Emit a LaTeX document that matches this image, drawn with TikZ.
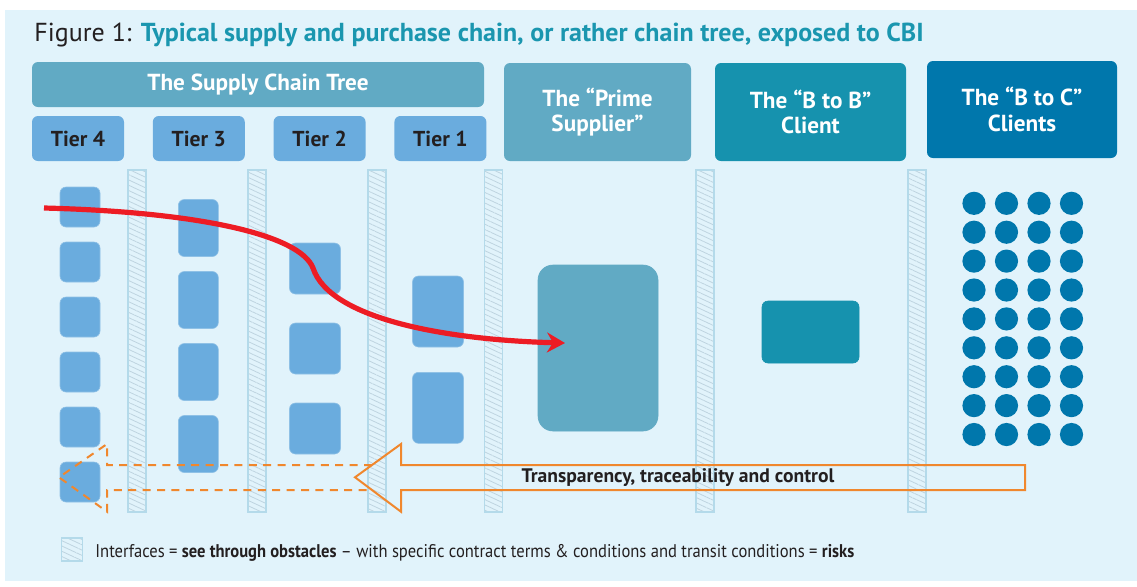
\documentclass[tikz,border=0pt]{standalone}
\usepackage{fontspec}
\setmainfont{PT Sans}
\newfontfamily\condfont[FakeStretch=0.9]{PT Sans}
\usetikzlibrary{arrows.meta,positioning,patterns.meta}
\definecolor{fondo}{RGB}{225,243,251}
\definecolor{arbol}{RGB}{97,170,196}
\definecolor{tierblue}{RGB}{106,172,222}
\definecolor{btob}{RGB}{22,146,174}
\definecolor{btoc}{RGB}{0,119,172}
\definecolor{ifaceline}{RGB}{180,218,234}
\definecolor{ifacehatch}{RGB}{190,212,224}
\definecolor{naranja}{RGB}{240,135,45}
\definecolor{rojo}{RGB}{237,28,36}
\definecolor{texto}{RGB}{35,31,32}
\definecolor{titulo}{RGB}{26,150,175}

\begin{document}
\begin{tikzpicture}[
  x=0.5pt,y=-0.5pt,
  node distance=14pt,
  head/.style={rounded corners=3pt,text=white,align=center,inner sep=0pt,
               font=\bfseries\fontsize{11.6}{12.8}\selectfont},
  tier/.style={fill=tierblue,rounded corners=3pt,minimum width=46pt,minimum height=22.5pt,
               inner sep=0pt,text=texto,font=\bfseries\fontsize{10.8}{12}\selectfont},
  firm/.style={fill=tierblue,draw=tierblue!75!white,line width=0.3pt,rounded corners=3pt,inner sep=0pt},
  iface/.style={draw=ifaceline,line width=0.6pt,inner sep=0pt,
                pattern={Lines[angle=-25,distance=2.4pt,line width=0.4pt]},pattern color=ifacehatch},
  dot/.style={circle,fill=btoc,minimum size=11.6pt,inner sep=0pt},
  flecha/.style={draw=naranja,line width=1pt,line join=miter},
  ar/.style={-{Stealth[length=9pt,width=10pt,inset=3pt]},rojo,line width=2.6pt}
]
\useasboundingbox (0,0) rectangle (1137,586);
\fill[fondo] (5,10) rectangle (1137,581);

% title
\node[anchor=base west,inner sep=0pt,text=texto,font=\fontsize{13}{15}\selectfont] (title) at (34,41.7)
  {Figure 1: \textcolor{titulo}{\bfseries Typical supply and purchase chain, or rather chain tree, exposed to CBI}};

% headers
\node[head,fill=arbol,minimum width=226pt,minimum height=22.5pt] (tree) at (258,84.5) {The Supply Chain Tree};
\node[tier] (t4) at (78,138.5) {Tier 4};
\node[tier,right=of t4] (t3) {Tier 3};
\node[tier,right=of t3] (t2) {Tier 2};
\node[tier,right=of t2] (t1) {Tier 1};
\node[head,fill=arbol,minimum width=93.5pt,minimum height=49pt] (prime) at (597.5,112) {The “Prime\\Supplier”};
\node[head,fill=btob,minimum width=95.5pt,minimum height=49pt] (b2b) at (810.5,112) {The “B to B”\\Client};
\node[head,fill=btoc,minimum width=95pt,minimum height=48.5pt] (b2c) at (1022,109.5) {The “B to C”\\Clients};

% interfaces
\foreach \x [count=\n] in {137,257,377,493.5,705,917}
  \node[iface,minimum width=9pt,minimum height=171pt] (if\n) at (\x,341) {};

% firms per tier
\foreach \k in {0,...,5}
  \node[firm,minimum width=20pt,minimum height=20pt] (fa\k) at (80,{207+55*\k}) {};
\foreach \k in {0,...,3}
  \node[firm,minimum width=20pt,minimum height=28.5pt] (fb\k) at (198.3,{228+72*\k}) {};
\foreach \k in {0,...,2}
  \node[firm,minimum width=25.5pt,minimum height=25.5pt] (fc\k) at (315,{268.5+80*\k}) {};
\node[firm,minimum width=25.5pt,minimum height=35.5pt] (fd0) at (438,311.5) {};
\node[firm,minimum width=25.5pt,minimum height=35.5pt] (fd1) at (438,407.8) {};
\node[firm,fill=arbol,draw=arbol,rounded corners=7.5pt,minimum width=60pt,minimum height=83pt] (ps) at (598,348) {};
\node[firm,fill=btob,draw=btob,minimum width=48.5pt,minimum height=31pt] (bb) at (810.5,332) {};
\foreach \i in {0,...,3}
  \foreach \j in {0,...,8}
    \node[dot] (d\i\j) at ({974+32.5*\i},{203.3+28.9*\j}) {};

% red chain
\coordinate (rs) at (44,208);
\coordinate (re) at (565,343);
\draw[ar] (rs) .. controls (200,212) and (300,235) .. (313,268)
               .. controls (330,320) and (450,340) .. (re);

% transparency arrow
\draw[flecha] (1025,465) -- (401,465) -- (401,444) -- (355,477.3) -- (401,511.7) -- (401,490) -- (1025,490) -- cycle;
\draw[flecha,dash pattern=on 4pt off 3.2pt] (372,465) -- (107,465) -- (107,444) -- (59,477.3)
  -- (107,511.7) -- (107,490) -- (372,490);
\node[text=texto,font=\bfseries\fontsize{9.8}{11}\selectfont] (flow) at (678,477.5)
  {Transparency, traceability and control};

% legend
\node[iface,minimum width=10.5pt,minimum height=11.5pt] (key) at (72,549.5) {};
\node[anchor=base west,inner sep=0pt,text=texto,font=\condfont\fontsize{9.2}{11}\selectfont] (keytxt) at (95,557)
  {Interfaces = \textbf{see through obstacles} – with specific contract terms \& conditions and transit conditions = \textbf{risks}};
\end{tikzpicture}
\end{document}
